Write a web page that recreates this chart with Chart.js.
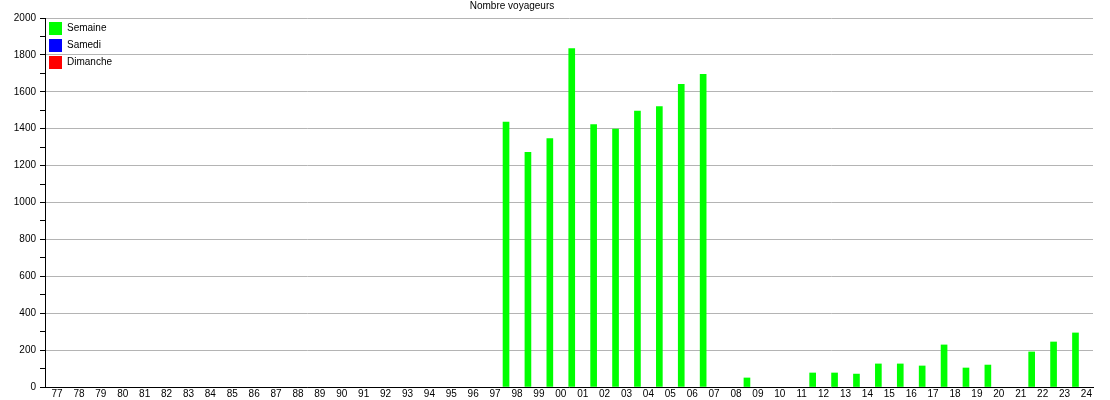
<!DOCTYPE html>
<html>
<head>
<meta charset="utf-8">
<script src="https://cdn.jsdelivr.net/npm/chart.js@4"></script>
<style>
	html, body { margin: 0; padding: 0; background: #fff; }
	#wrap { width: 1110px; height: 400px; }
</style>
</head>
<body>
<div id="wrap"><canvas id="voyageurs"></canvas></div>
<script>
// saisons 77-78 ... 23-24, la barre est posée entre deux étiquettes
const yearLabels = ["77","78","79","80","81","82","83","84","85","86","87","88","89","90","91","92",
	"93","94","95","96","97","98","99","00","01","02","03","04","05","06","07","08","09","10",
	"11","12","13","14","15","16","17","18","19","20","21","22","23","24"]

const semaineValues = [null,null,null,null,null,null,null,null,null,null,null,null,null,null,null,null,
	null,null,null,null,1436,1272,1346,1834,1423,1398,1495,1520,1640,1695,null,49,null,null,
	76,76,70,125,125,114,228,103,119,null,190,244,293,null]
const samediValues = []
const dimancheValues = []

const chartTitle = "Nombre voyageurs"

Chart.defaults.font.family = "'Liberation Sans', Arial, sans-serif"
Chart.defaults.font.size = 10
Chart.defaults.color = "#000"

function toPoints(values) {
	return values.map(function (v, i) {
		return { x: i + 0.5, y: v }
	})
}

const titlePlugin = {
	id: 'titleText',
	afterDraw(chart) {
		let ctx = chart.ctx
		ctx.save()
		ctx.font = "10px 'Liberation Sans', Arial, sans-serif"
		ctx.fillStyle = "#000"
		ctx.textAlign = "center"
		ctx.textBaseline = "middle"
		ctx.fillText(chartTitle, 512, 6)
		ctx.restore()
	}
}

let voyageurs = document.getElementById("voyageurs").getContext('2d')

let voyageursChart = new Chart(voyageurs, {
	type: 'bar',
	data: {
		datasets: [
			{
				label: 'Semaine',
				data: toPoints(semaineValues),
				backgroundColor: "#00ff00",
				barThickness: 6
			},
			{
				label: 'Samedi',
				data: toPoints(samediValues),
				backgroundColor: "#0000ff",
				barThickness: 6
			},
			{
				label: 'Dimanche',
				data: toPoints(dimancheValues),
				backgroundColor: "#ff0000",
				barThickness: 6
			}
		]
	},
	options: {
		responsive: true,
		maintainAspectRatio: false,
		animation: false,
		grouped: false,
		layout: {
			padding: { top: 18, right: 17, bottom: 0, left: 0 }
		},
		scales: {
			x: {
				type: 'linear',
				offset: false,
				min: -0.55,
				max: 47.3,
				afterBuildTicks: function (scale) {
					scale.ticks = yearLabels.map(function (l, i) { return { value: i } })
				},
				afterFit: function (scale) { scale.height = 13 },
				ticks: {
					autoSkip: false,
					maxRotation: 0,
					padding: 1,
					callback: function (value) { return yearLabels[value] }
				},
				grid: {
					display: false,
					drawTicks: false
				},
				border: {
					display: true,
					color: "#000"
				}
			},
			y: {
				min: 0,
				max: 2000,
				afterFit: function (scale) { scale.width = 45 },
				ticks: {
					stepSize: 100,
					padding: 4,
					callback: function (value) { return value % 200 === 0 ? value : '' }
				},
				grid: {
					color: function (ctx) {
						return ctx.tick && ctx.tick.value % 200 === 0 ? "#b4b4b4" : "rgba(0,0,0,0)"
					},
					tickColor: "#000",
					tickLength: 5
				},
				border: {
					color: "#000"
				}
			}
		},
		plugins: {
			legend: {
				position: 'chartArea',
				align: 'start',
				// titre vide : sert juste à descendre les entrées sous la ligne 2000
				title: {
					display: true,
					text: '',
					padding: { top: 3, bottom: 3 }
				},
				labels: {
					boxWidth: 13,
					boxHeight: 13,
					padding: 4,
					color: "#000"
				}
			},
			tooltip: { enabled: false }
		}
	},
	plugins: [titlePlugin]
});
</script>
</body>
</html>
